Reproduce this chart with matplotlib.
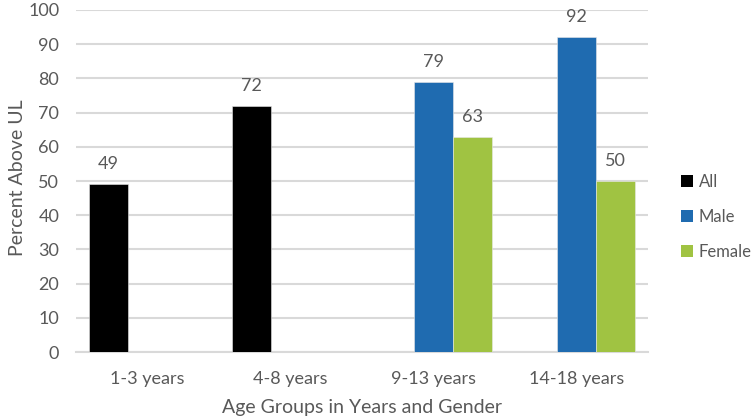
import numpy as np
import matplotlib.pyplot as plt
from matplotlib.patches import Patch

plt.rcParams["font.family"] = ["Lato", "DejaVu Sans"]

groups = ["1-3 years", "4-8 years", "9-13 years", "14-18 years"]
all_vals = [49, 72, np.nan, np.nan]
male_vals = [np.nan, np.nan, 79, 92]
female_vals = [np.nan, np.nan, 63, 50]

series = [("All", all_vals, "#000000", -1),
          ("Male", male_vals, "#1F6BB0", 0),
          ("Female", female_vals, "#A0C342", 1)]

txt = "#595959"
fig = plt.figure(figsize=(7.53, 4.19), dpi=100)
ax = fig.add_axes([76/753, 67/419, 572/753, 342/419])

x = np.arange(len(groups))
w = 39/143
for name, vals, col, off in series:
    vals = np.array(vals, dtype=float)
    ax.bar(x + off*w, vals, w, color=col, edgecolor="#E8E8E8", linewidth=0.4, zorder=3)
    for xi, v in zip(x + off*w, vals):
        if not np.isnan(v):
            ax.text(xi, v + 3.5, f"{v:.0f}", ha="center", va="bottom", fontsize=13, color=txt)

ax.set_xlim(-0.5, 3.5)
ax.set_ylim(0, 100)
ax.set_yticks(range(0, 101, 10))
ax.set_xticks(x)
ax.set_xticklabels(groups)
ax.yaxis.grid(True, color="#D9D9D9", linewidth=1.5, zorder=0)
for s in ["top", "right", "left"]:
    ax.spines[s].set_visible(False)
ax.spines["bottom"].set_color("#D9D9D9")
ax.spines["bottom"].set_linewidth(1.5)
ax.tick_params(axis="both", length=0, labelsize=13, colors=txt)
ax.tick_params(axis="x", pad=14)
ax.tick_params(axis="y", pad=12)

ax.set_xlabel("Age Groups in Years and Gender", fontsize=14, color=txt, labelpad=8)
ax.set_ylabel("Percent Above UL", fontsize=14, color=txt)
ax.yaxis.set_label_coords(-0.088, 0.51)

handles = [Patch(facecolor=c, label=n) for n, _, c, _ in series]
fig.legend(handles=handles, loc="center left", bbox_to_anchor=(681/753, 1 - 217/419),
           frameon=False, fontsize=12, labelcolor=txt, handlelength=0.7, handleheight=0.7,
           handletextpad=0.35, labelspacing=1.15, borderpad=0, borderaxespad=0)

fig.savefig("out.png", dpi=100)
